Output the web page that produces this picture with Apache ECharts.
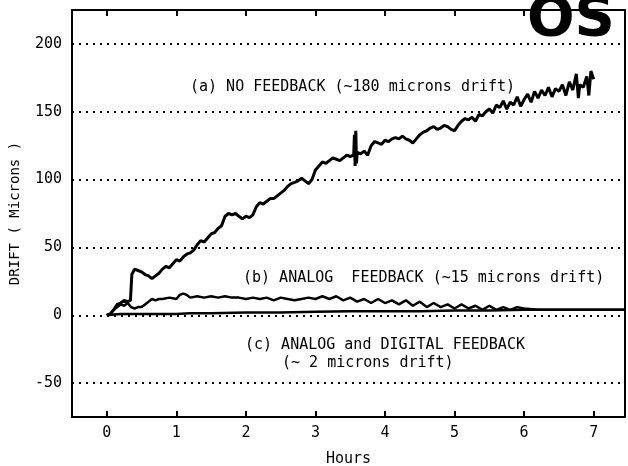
<!DOCTYPE html>
<html>
<head>
<meta charset="utf-8">
<script src="https://cdn.jsdelivr.net/npm/echarts@6/dist/echarts.min.js"></script>
<style>html,body{margin:0;padding:0;background:#fff;}#c{width:628px;height:466px;}</style>
</head>
<body>
<div id="c"></div>
<script>
// Tick labels
const xTicks = [0, 1, 2, 3, 4, 5, 6, 7];
const yTicks = [-50, 0, 50, 100, 150, 200];

// (a) No feedback: [hours, microns]
const seriesA = [
[0.00,0],[0.05,1],[0.10,4],[0.15,8],[0.20,9],[0.25,11],[0.30,10],[0.34,11],[0.36,30],[0.40,34],
[0.45,33],[0.50,32],[0.55,30],[0.60,29],[0.65,27],[0.70,29],[0.75,31],[0.80,34],[0.85,36],[0.90,35],
[0.95,38],[1.00,41],[1.05,40],[1.10,43],[1.15,45],[1.20,46],[1.25,48],[1.30,52],[1.35,55],[1.40,54],
[1.45,57],[1.50,60],[1.55,61],[1.60,64],[1.65,66],[1.70,73],[1.75,75],[1.80,74],[1.85,75],[1.90,73],
[1.95,71],[2.00,73],[2.05,72],[2.10,74],[2.15,80],[2.20,83],[2.25,82],[2.30,84],[2.35,86],[2.40,86],
[2.45,88],[2.50,90],[2.55,92],[2.60,95],[2.65,97],[2.70,98],[2.75,99],[2.80,101],[2.85,99],[2.90,97],
[2.95,100],[3.00,107],[3.05,110],[3.10,113],[3.15,112],[3.20,114],[3.25,116],[3.30,115],[3.35,114],[3.40,116],
[3.45,118],[3.50,117],[3.55,118],[3.56,133],[3.57,110],[3.58,136],[3.59,112],[3.60,120],[3.65,119],[3.70,121],
[3.75,118],[3.80,125],[3.85,128],[3.90,127],[3.95,126],[4.00,129],[4.05,128],[4.10,130],[4.15,131],[4.20,130],
[4.25,132],[4.30,130],[4.35,129],[4.40,127],[4.45,130],[4.50,133],[4.55,135],[4.60,136],[4.65,138],[4.70,139],
[4.75,137],[4.80,138],[4.85,140],[4.90,139],[4.95,137],[5.00,136],[5.05,140],[5.10,143],[5.15,145],[5.20,144],
[5.25,146],[5.30,143],[5.35,148],[5.40,147],[5.45,150],[5.50,152],[5.55,149],[5.60,155],[5.65,153],[5.70,158],
[5.75,152],[5.80,157],[5.85,155],[5.90,161],[5.95,154],[6.00,159],[6.05,163],[6.10,157],[6.15,165],[6.20,160],
[6.25,166],[6.30,162],[6.35,168],[6.40,161],[6.45,167],[6.50,165],[6.55,170],[6.60,162],[6.65,172],[6.70,166],
[6.75,178],[6.78,160],[6.80,170],[6.85,168],[6.90,176],[6.93,162],[6.96,180],[7.00,174]
];

// (b) Analog feedback
const seriesB = [
[0.00,0],[0.05,1],[0.10,4],[0.15,6],[0.20,8],[0.25,7],[0.30,9],[0.35,6],[0.40,5],[0.45,6],
[0.50,6],[0.55,8],[0.60,10],[0.65,12],[0.70,11],[0.75,12],[0.80,12],[0.90,13],[1.00,12],[1.05,15],
[1.10,16],[1.15,15],[1.20,13],[1.30,14],[1.40,13],[1.50,14],[1.60,13],[1.70,14],[1.80,13],[1.90,13],
[2.00,12],[2.10,13],[2.20,12],[2.30,13],[2.40,11],[2.50,13],[2.60,12],[2.70,11],[2.80,12],[2.90,13],
[3.00,12],[3.10,14],[3.20,12],[3.30,14],[3.40,11],[3.50,13],[3.60,10],[3.70,12],[3.80,9],[3.90,12],
[4.00,9],[4.10,11],[4.20,8],[4.30,11],[4.40,7],[4.50,10],[4.60,6],[4.70,9],[4.80,6],[4.90,8],
[5.00,5],[5.10,8],[5.20,5],[5.30,7],[5.40,4],[5.50,7],[5.60,4],[5.70,6],[5.80,4],[5.90,6],
[6.00,5],[6.20,4],[6.50,4],[7.00,4],[7.45,4]
];

// (c) Analog and digital feedback
const seriesC = [
[0.00,0],[0.10,0.5],[0.20,1],[0.40,1],[0.60,1],[0.80,1],[1.00,1],[1.20,1.5],[1.50,1.5],[2.00,2],
[2.50,2],[3.00,2.5],[3.50,3],[4.00,3],[4.50,3],[5.00,3.5],[5.50,3.5],[6.00,4],[6.50,4],[7.00,4],[7.45,4]
];

const labels = {
  a: '(a) NO FEEDBACK (~180 microns drift)',
  b: '(b) ANALOG  FEEDBACK (~15 microns drift)',
  c1: '(c) ANALOG and DIGITAL FEEDBACK',
  c2: '(~ 2 microns drift)'
};

const FONT = '"DejaVu Sans Mono", "Liberation Mono", monospace';
const chart = echarts.init(document.getElementById('c'), null, {renderer: 'canvas'});

function line(data, w) {
  return {type: 'line', data: data, showSymbol: false, symbol: 'none',
    lineStyle: {color: '#000', width: w}, silent: true, animation: false, z: 5};
}

chart.setOption({
  animation: false,
  backgroundColor: '#fff',
  grid: {left: 72, right: 3, top: 10, bottom: 49, outerBoundsMode: 'none', containLabel: false},
  xAxis: [{
    type: 'value', position: 'bottom', min: -0.5, max: 7.45,
    axisLine: {show: true, onZero: false, lineStyle: {color: '#000', width: 2}},
    axisTick: {show: true, inside: true, length: 6, customValues: xTicks, lineStyle: {color: '#000', width: 2}},
    axisLabel: {customValues: xTicks, color: '#000', fontSize: 15, fontFamily: FONT, margin: 9},
    splitLine: {show: false},
    name: 'Hours', nameLocation: 'middle', nameGap: 35,
    nameTextStyle: {color: '#000', fontSize: 15, fontFamily: FONT}
  }, {
    type: 'value', position: 'top', min: -0.5, max: 7.45,
    axisLine: {show: true, onZero: false, lineStyle: {color: '#000', width: 2}},
    axisTick: {show: true, inside: true, length: 6, customValues: xTicks, lineStyle: {color: '#000', width: 2}},
    axisLabel: {show: false},
    splitLine: {show: false}
  }],
  yAxis: [{
    type: 'value', min: -75, max: 225, position: 'left',
    axisLine: {show: true, onZero: false, lineStyle: {color: '#000', width: 2}},
    axisTick: {show: false, customValues: yTicks},
    axisLabel: {customValues: yTicks, color: '#000', fontSize: 15, fontFamily: FONT, margin: 10},
    splitLine: {show: true, lineStyle: {color: '#000', width: 2, type: [2, 5]}},
    name: 'DRIFT ( Microns )', nameLocation: 'middle', nameGap: 50,
    nameTextStyle: {color: '#000', fontSize: 14, fontFamily: FONT}
  }, {
    type: 'value', position: 'right', min: -75, max: 225,
    axisLine: {show: true, onZero: false, lineStyle: {color: '#000', width: 2}},
    axisTick: {show: false}, axisLabel: {show: false}, splitLine: {show: false}
  }],
  series: [line(seriesC, 2.5), line(seriesB, 2.5), line(seriesA, 3)],
  graphic: [
    {type: 'text', left: 190, top: 80, style: {text: labels.a, font: '15px ' + FONT, fill: '#000'}},
    {type: 'text', left: 243, top: 271, style: {text: labels.b, font: '15px ' + FONT, fill: '#000'}},
    {type: 'text', left: 245, top: 338, style: {text: labels.c1, font: '15px ' + FONT, fill: '#000'}},
    {type: 'text', left: 282, top: 356, style: {text: labels.c2, font: '15px ' + FONT, fill: '#000'}},
    {type: 'text', left: 527, top: -8, z: 100, style: {text: 'OS', font: 'bold 56px "DejaVu Sans", sans-serif', fill: '#000'}}
  ]
});
</script>
</body>
</html>
